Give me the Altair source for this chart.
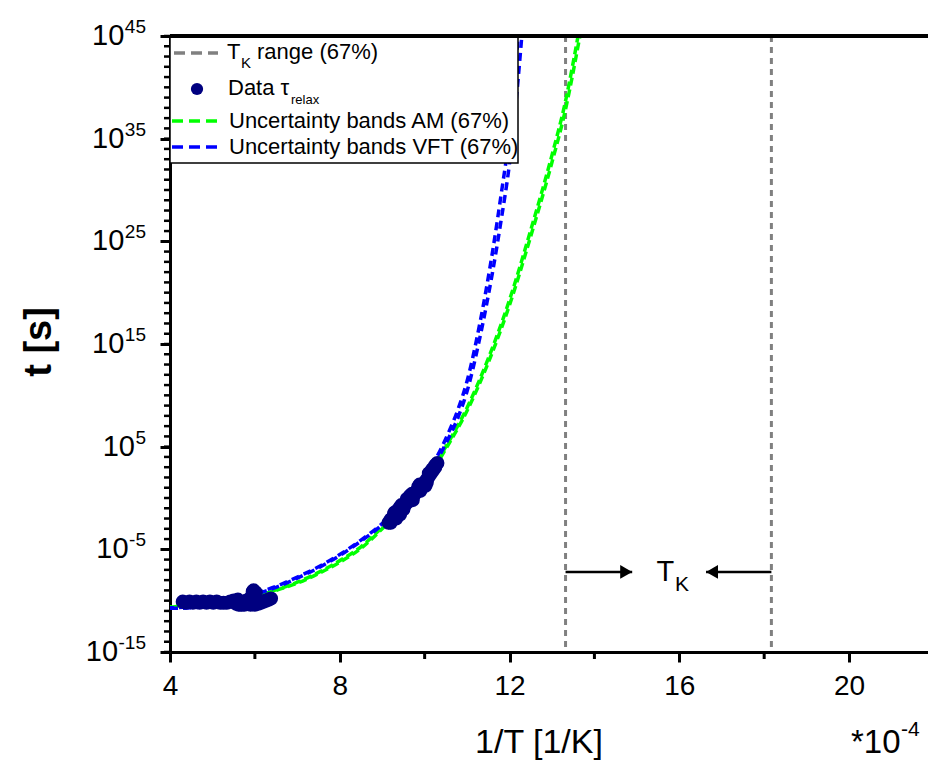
import altair as alt
import pandas as pd

W, H = 758, 616
FONT = "Liberation Sans"

# measured relaxation times: x = 1/T in 1e-4 1/K, value = log10(tau / s)
tau_x = [4.30, 4.38, 4.46, 4.54, 4.62, 4.70, 4.78, 4.86, 4.94, 5.02, 5.10, 5.18,
         5.26, 5.34, 5.42, 5.50, 5.56, 5.62, 5.68, 5.74, 5.80, 5.86, 5.92, 5.97,
         6.02, 6.08, 6.14, 6.20, 6.26, 6.32, 6.38, 5.60, 5.75, 5.90, 6.05, 5.95, 6.00,
         9.15, 9.20, 9.25, 9.30, 9.35, 9.40, 9.45, 9.50, 9.55, 9.60, 9.65, 9.70,
         9.75, 9.80, 9.85, 9.90, 9.95, 10.00, 10.05, 10.10, 10.15, 10.20, 10.25, 10.30,
         9.28, 9.42, 9.58, 9.72, 9.88, 10.02, 10.18, 9.33,
         9.30, 9.50, 9.70, 9.90, 10.10, 9.45, 9.65, 9.85, 10.05, 10.25, 9.20, 9.40]
tau_log = [-10.1, -10.2, -10.1, -10.2, -10.1, -10.2, -10.1, -10.2, -10.1, -10.2, -10.1, -10.2,
           -10.2, -10.2, -10.1, -10.0, -10.3, -10.4, -10.4, -10.2, -10.0, -10.3, -9.6, -9.0,
           -9.2, -10.3, -10.2, -10.1, -10.0, -9.9, -9.8, -9.9, -10.4, -10.4, -10.0, -9.1, -10.4,
           -2.4, -2.1, -1.9, -1.8, -1.5, -1.3, -1.1, -0.8, -0.6, -0.4, -0.1, 0.1,
           0.3, 0.6, 0.8, 1.0, 1.3, 1.5, 1.8, 2.1, 2.4, 2.7, 3.0, 3.4,
           -1.5, -1.6, -0.1, -0.2, 1.3, 1.2, 2.8, -2.0,
           -1.4, -1.1, 0.4, 0.7, 2.4, -0.7, 0.2, 1.1, 1.5, 3.2, -2.4, -1.0]

# AM model, 67 % uncertainty band (lower / upper)
am_x = [4.0, 4.5, 5.0, 5.5, 6.0, 6.5, 7.0, 7.5, 8.0, 8.5, 9.0, 9.5, 10.0, 10.5,
        11.0, 11.5, 12.0, 12.5, 13.0, 13.3, 13.68]
am_lo = [-10.65, -10.45, -10.25, -9.95, -9.55, -9.0, -8.3, -7.35, -6.25, -4.9, -3.0, -0.9,
         1.5, 4.8, 8.5, 13.2, 18.8, 25.5, 32.7, 37.5, 45.5]
am_hi = [-10.6, -10.4, -10.2, -9.9, -9.5, -8.95, -8.2, -7.25, -6.1, -4.75, -2.85, -0.7,
         1.7, 5.0, 8.8, 13.6, 19.3, 26.1, 33.4, 38.3, 46.5]

# VFT model, 67 % uncertainty band (lower / upper)
vft_lo_x = [4.0, 4.5, 5.0, 5.5, 6.0, 6.5, 7.0, 7.5, 8.0, 8.5, 9.0, 9.5, 10.0, 10.5,
            10.8, 11.0, 11.3, 11.6, 11.8, 12.0, 12.1, 12.3]
vft_lo = [-10.75, -10.7, -10.5, -10.0, -9.4, -8.7, -7.8, -6.8, -5.6, -4.2, -2.6, -0.6,
          1.8, 5.3, 8.0, 10.4, 15.6, 22.0, 27.0, 32.6, 36.3, 45.5]
vft_hi_x = [4.0, 4.5, 5.0, 5.5, 6.0, 6.5, 7.0, 7.5, 8.0, 8.5, 9.0, 9.5, 10.0, 10.5,
            10.8, 11.0, 11.3, 11.6, 11.8, 12.0, 12.1, 12.22]
vft_hi = [-10.7, -10.6, -10.4, -9.9, -9.3, -8.6, -7.7, -6.7, -5.5, -4.1, -2.5, -0.5,
          2.0, 5.8, 8.8, 11.4, 17.0, 24.0, 29.5, 35.5, 39.6, 46.0]

# Kauzmann temperature range (67 %)
tk_bounds = [13.32, 18.17]
tk_arrow_tips = [14.89, 16.63]
tk_arrow_level = -7.2

x_ticks = [4, 8, 12, 16, 20]
x_minor = [6, 10, 14, 18]
y_major = [-15, -5, 5, 15, 25, 35, 45]
y_minor = list(range(-15, 46))

xscale = alt.Scale(domain=[4, 21.86], nice=False, zero=False)
yscale = alt.Scale(domain=[-15, 45], nice=False, zero=False)

one = pd.DataFrame({"a": [0]})
tau_df = pd.DataFrame({"x": tau_x, "log": tau_log})

GREEN, BLUE, NAVY, GRAY = "#00ff00", "#0000ff", "#000080", "#808080"

X = alt.X("x:Q", scale=xscale, axis=alt.Axis(
    values=x_ticks, title=None, grid=False, format="d",
    tickSize=10, tickWidth=3, tickColor="black",
    domainWidth=3, domainColor="black",
    labelFont=FONT, labelFontSize=28, labelColor="black",
    labelPadding=10, labelFlush=False, labelOverlap=False))
Y = alt.Y("log:Q", scale=yscale, axis=alt.Axis(
    values=y_major, title=None, grid=False, labels=False,
    tickSize=10, tickWidth=3, tickColor="black",
    domainWidth=3, domainColor="black"))


def band_line(xs, ys, color, dash, offset=0):
    df = pd.DataFrame({"x": xs, "log": ys})
    return alt.Chart(df).mark_line(
        color=color, strokeWidth=3.5, strokeDash=dash, strokeDashOffset=offset,
        interpolate="monotone", clip=True
    ).encode(x=X, y=Y)


tk_lines = alt.Chart(pd.DataFrame({"x": tk_bounds})).mark_rule(
    color=GRAY, strokeWidth=3, strokeDash=[6, 5]
).encode(x=X)

green_lo = band_line(am_x, am_lo, GREEN, [8, 4], 0)
green_hi = band_line(am_x, am_hi, GREEN, [8, 4], 6)
blue_lo = band_line(vft_lo_x, vft_lo, BLUE, [8, 5], 0)
blue_hi = band_line(vft_hi_x, vft_hi, BLUE, [8, 5], 4)

points = alt.Chart(tau_df).mark_circle(
    size=200, color=NAVY, opacity=1, clip=True
).encode(x=X, y=Y)

# minor ticks
y_minor_ticks = alt.Chart(pd.DataFrame({"log": y_minor})).mark_rule(
    color="black", strokeWidth=2.5
).encode(y=Y, x=alt.value(-6), x2=alt.value(0))
x_minor_ticks = alt.Chart(pd.DataFrame({"x": x_minor})).mark_rule(
    color="black", strokeWidth=3
).encode(x=X, y=alt.value(H), y2=alt.value(H + 7))

# y tick labels written as 10 with a raised exponent
SUP_SIZE, BASE_SIZE = 19, 29
char_w = {"-": 0.333 * SUP_SIZE}
y_labels = []
for e in y_major:
    sup = str(e)
    sup_w = sum(char_w.get(c, 0.556 * SUP_SIZE) for c in sup)
    row = pd.DataFrame({"log": [e]})
    y_labels.append(alt.Chart(row).mark_text(
        text="10", font=FONT, fontSize=BASE_SIZE, align="right", baseline="middle", color="black"
    ).encode(x=alt.value(-24 - sup_w - 0.5), y=Y))
    y_labels.append(alt.Chart(row).mark_text(
        text=sup, font=FONT, fontSize=SUP_SIZE, align="right", baseline="middle", dy=-9,
        color="black"
    ).encode(x=alt.value(-24), y=Y))

# axis titles
x_title = alt.Chart(one).mark_text(
    text="1/T [1/K]", font=FONT, fontSize=34, align="center", baseline="alphabetic", color="black"
).encode(x=alt.value(W / 2 - 10), y=alt.value(717))
x_unit = alt.Chart(one).mark_text(
    text="*10", font=FONT, fontSize=33, align="left", baseline="alphabetic", color="black"
).encode(x=alt.value(681), y=alt.value(717))
x_unit_sup = alt.Chart(one).mark_text(
    text="-4", font=FONT, fontSize=21, align="left", baseline="alphabetic", color="black"
).encode(x=alt.value(731), y=alt.value(700))
y_title = alt.Chart(one).mark_text(
    text="t [s]", font=FONT, fontSize=38, fontWeight="bold", angle=270,
    align="center", baseline="middle", color="black"
).encode(x=alt.value(-130), y=alt.value(306))

# T_K annotation arrows
arrows = pd.DataFrame({"x": tk_bounds, "tip": tk_arrow_tips, "log": [tk_arrow_level] * 2})
arrow_shafts = alt.Chart(arrows).mark_rule(color="black", strokeWidth=2.5).encode(
    x=X, x2="tip:Q", y=Y)
head_r = alt.Chart(pd.DataFrame({"x": [tk_arrow_tips[0]], "log": [tk_arrow_level]})).mark_point(
    shape="triangle-right", filled=True, size=190, color="black", opacity=1, xOffset=-6
).encode(x=X, y=Y)
head_l = alt.Chart(pd.DataFrame({"x": [tk_arrow_tips[1]], "log": [tk_arrow_level]})).mark_point(
    shape="triangle-left", filled=True, size=190, color="black", opacity=1, xOffset=6
).encode(x=X, y=Y)
tk_text = alt.Chart(pd.DataFrame({"x": [15.67], "log": [tk_arrow_level]})).mark_text(
    text="T", font=FONT, fontSize=29, align="center", baseline="middle", color="black"
).encode(x=X, y=Y)
tk_sub = alt.Chart(pd.DataFrame({"x": [15.9], "log": [tk_arrow_level - 1.3]})).mark_text(
    text="K", font=FONT, fontSize=21, align="left", baseline="middle", color="black"
).encode(x=X, y=Y)

# legend box
LEG_FS = 22
legend_box = alt.Chart(one).mark_rect(fill="white", stroke="black", strokeWidth=1.5).encode(
    x=alt.value(0), x2=alt.value(348), y=alt.value(0), y2=alt.value(127))


def leg_text(txt, x, y, size=LEG_FS):
    return alt.Chart(one).mark_text(
        text=txt, font=FONT, fontSize=size, align="left", baseline="middle", color="black"
    ).encode(x=alt.value(x), y=alt.value(y))


def leg_dash(color, y):
    return alt.Chart(one).mark_rule(color=color, strokeWidth=3.5, strokeDash=[11, 6]).encode(
        x=alt.value(2), x2=alt.value(50), y=alt.value(y))


legend = [
    legend_box,
    alt.Chart(one).mark_rule(color=GRAY, strokeWidth=3.5, strokeDash=[11, 6]).encode(
        x=alt.value(4), x2=alt.value(48), y=alt.value(17)),
    leg_text("T", 57, 16),
    leg_text("K", 71, 27, 15),
    leg_text("range (67%)", 87, 16),
    alt.Chart(one).mark_circle(size=150, color=NAVY, opacity=1).encode(
        x=alt.value(27), y=alt.value(53)),
    leg_text("Data τ", 58, 52),
    leg_text("relax", 121, 64, 13),
    leg_dash(GREEN, 85),
    leg_text("Uncertainty bands AM (67%)", 59, 85),
    leg_dash(BLUE, 111),
    leg_text("Uncertainty bands VFT (67%)", 59, 111),
]

top_frame = alt.Chart(one).mark_rule(color="black", strokeWidth=4).encode(
    x=alt.value(0), x2=alt.value(W), y=alt.value(0))

chart = alt.layer(
    tk_lines, green_lo, green_hi, blue_lo, blue_hi, points,
    y_minor_ticks, x_minor_ticks, *y_labels,
    x_title, x_unit, x_unit_sup, y_title,
    arrow_shafts, head_r, head_l, tk_text, tk_sub,
    *legend, top_frame,
).properties(
    width=W, height=H,
    padding={"left": 170, "top": 36, "right": 0, "bottom": 110},
    autosize=alt.AutoSizeParams(type="none"),
    background="white",
).configure_view(stroke=None)

chart.save("out.html", embed_options={"renderer": "svg", "actions": False})
